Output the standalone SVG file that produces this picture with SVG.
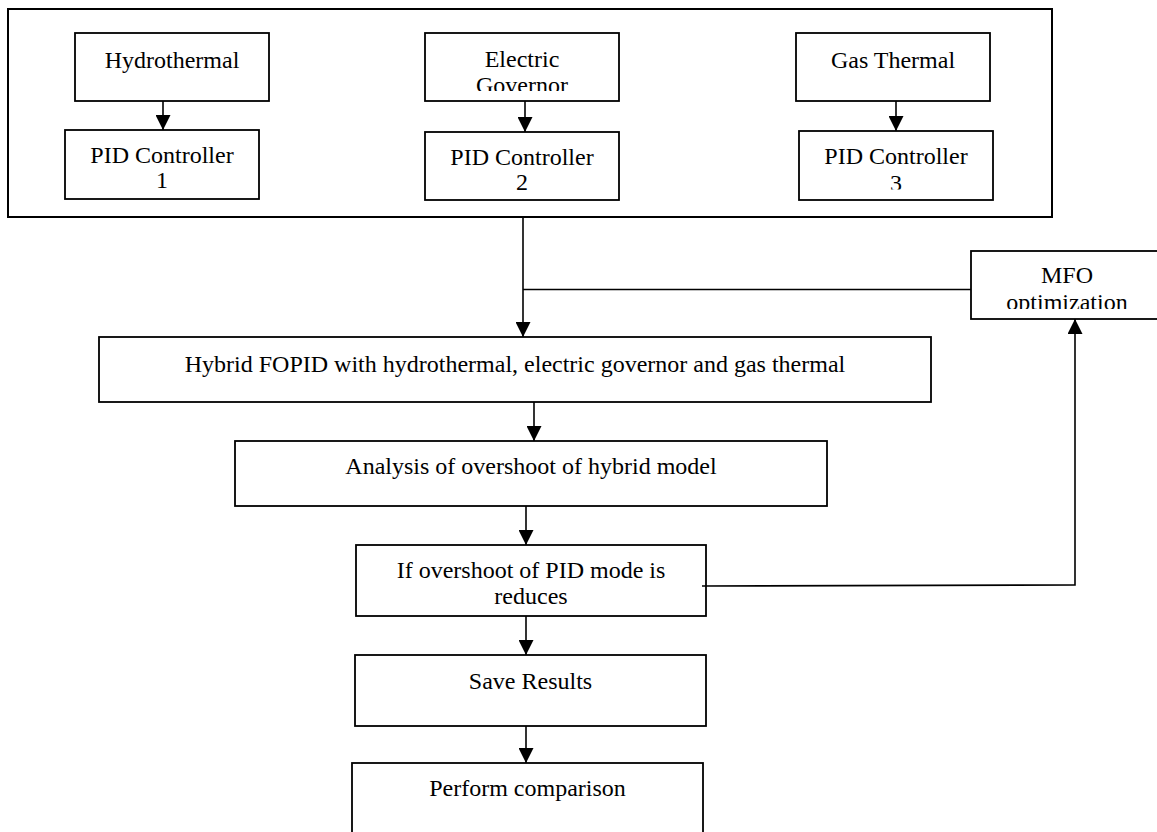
<svg xmlns="http://www.w3.org/2000/svg" width="1157" height="832" viewBox="0 0 1157 832">
<style>
.box{fill:#fff;stroke:#000;stroke-width:1.8}
.outer{fill:#fff;stroke:#000;stroke-width:2}
.lbl{font-family:"Liberation Serif","Times New Roman",serif;font-size:24px;fill:#000;text-anchor:middle}
.ln{fill:none;stroke:#000;stroke-width:1.6}
.arr{marker-end:url(#ah)}
</style>
<defs>
<marker id="ah" markerUnits="userSpaceOnUse" markerWidth="15" markerHeight="15" refX="15" refY="7.5" orient="auto">
<path d="M0,0 L15,7.5 L0,15 z" fill="#000"/>
</marker>
<clipPath id="cGov"><rect x="425" y="33" width="194" height="58"/></clipPath>
<clipPath id="cPid3"><rect x="799" y="131" width="194" height="58.5"/></clipPath>
<clipPath id="cPid1"><rect x="65" y="130" width="194" height="69"/></clipPath>
<clipPath id="cMfo"><rect x="971" y="251" width="200" height="58"/></clipPath>
</defs>
<rect x="0" y="0" width="1157" height="832" fill="#fff"/>
<g id="group-top">
<rect class="outer" x="8" y="9" width="1044" height="208"/>
</g>
<g id="hydrothermal">
<rect class="box" x="75" y="33" width="194" height="68"/>
<text class="lbl" x="172" y="68">Hydrothermal</text>
</g>
<g id="pid1">
<rect class="box" x="65" y="130" width="194" height="69"/>
<g clip-path="url(#cPid1)">
<text class="lbl" x="162" y="163">PID Controller</text>
<text class="lbl" x="162" y="188">1</text>
</g>
</g>
<g id="electric-governor">
<rect class="box" x="425" y="33" width="194" height="68"/>
<g clip-path="url(#cGov)">
<text class="lbl" x="522" y="67">Electric</text>
<text class="lbl" x="522" y="93">Governor</text>
</g>
</g>
<g id="pid2">
<rect class="box" x="425" y="132" width="194" height="68"/>
<text class="lbl" x="522" y="165">PID Controller</text>
<text class="lbl" x="522" y="190">2</text>
</g>
<g id="gas-thermal">
<rect class="box" x="796" y="33" width="194" height="68"/>
<text class="lbl" x="893" y="68">Gas Thermal</text>
</g>
<g id="pid3">
<rect class="box" x="799" y="131" width="194" height="69"/>
<g clip-path="url(#cPid3)">
<text class="lbl" x="896" y="164">PID Controller</text>
<text class="lbl" x="896" y="191">3</text>
</g>
</g>
<g id="mfo">
<rect class="box" x="971" y="251" width="200" height="68"/>
<g clip-path="url(#cMfo)">
<text class="lbl" x="1067" y="283">MFO</text>
<text class="lbl" x="1067" y="310">optimization</text>
</g>
</g>
<g id="hybrid">
<rect class="box" x="99" y="337" width="832" height="65"/>
<text class="lbl" x="515" y="372">Hybrid FOPID with hydrothermal, electric governor and gas thermal</text>
</g>
<g id="analysis">
<rect class="box" x="235" y="441" width="592" height="65"/>
<text class="lbl" x="531" y="474">Analysis of overshoot of hybrid model</text>
</g>
<g id="if-overshoot">
<rect class="box" x="356" y="545" width="350" height="71"/>
<text class="lbl" x="531" y="578">If overshoot of PID mode is</text>
<text class="lbl" x="531" y="604">reduces</text>
</g>
<g id="save-results">
<rect class="box" x="355" y="655" width="351" height="71"/>
<text class="lbl" x="530.5" y="689">Save Results</text>
</g>
<g id="perform-comparison">
<rect class="box" x="352" y="763" width="351" height="80"/>
<text class="lbl" x="527.5" y="796">Perform comparison</text>
</g>
<g id="connectors">
<line class="ln arr" x1="163" y1="101" x2="163" y2="130"/>
<line class="ln arr" x1="525" y1="101" x2="525" y2="132"/>
<line class="ln arr" x1="896" y1="101" x2="896" y2="131"/>
<line class="ln arr" x1="523" y1="217" x2="523" y2="337"/>
<line class="ln" x1="523" y1="289.5" x2="971" y2="289.5"/>
<line class="ln arr" x1="534" y1="402" x2="534" y2="441"/>
<line class="ln arr" x1="526" y1="506" x2="526" y2="545"/>
<polyline class="ln arr" points="702,586 1075,585 1075,319"/>
<line class="ln arr" x1="526" y1="616" x2="526" y2="655"/>
<line class="ln arr" x1="526" y1="726" x2="526" y2="763"/>
</g>
</svg>
